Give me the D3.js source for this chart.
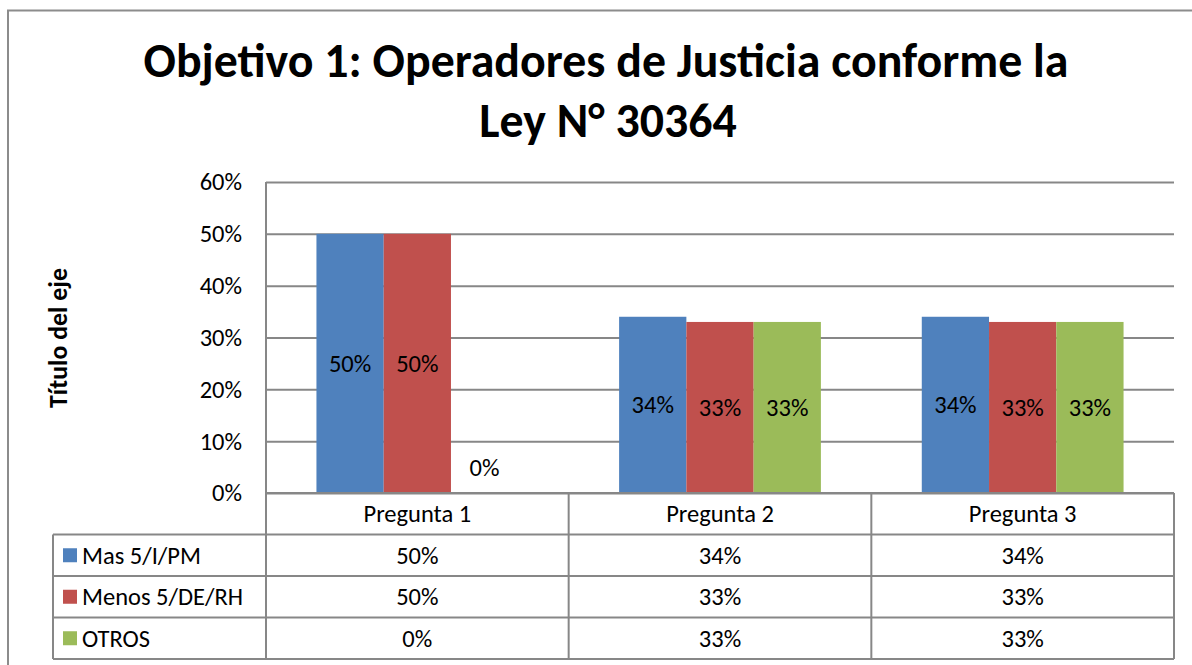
<!DOCTYPE html>
<html>
<head>
<meta charset="utf-8">
<script src="https://cdn.jsdelivr.net/npm/d3@7"></script>
<style>
  html, body { margin: 0; padding: 0; background: #fff; }
  svg { display: block; font-family: Carlito, Calibri, Lato, sans-serif; }
</style>
</head>
<body>
<svg id="chart" width="1192" height="665"></svg>
<script>
// chart data
const titleLines = ['Objetivo 1: Operadores de Justicia conforme la', 'Ley N° 30364'];
const axisTitle = 'Título del eje';
const categories = ['Pregunta 1', 'Pregunta 2', 'Pregunta 3'];
const seriesNames = ['Mas 5/I/PM', 'Menos 5/DE/RH', 'OTROS'];
const masValues = [0.50, 0.34, 0.34];
const menosValues = [0.50, 0.33, 0.33];
const otrosValues = [0.00, 0.33, 0.33];
const yTicks = [0, 0.1, 0.2, 0.3, 0.4, 0.5, 0.6];
const colors = ['#4F81BD', '#C0504D', '#9BBB59'];

const seriesValues = [masValues, menosValues, otrosValues];
const series = seriesNames.map((name, i) => ({ name, color: colors[i], values: seriesValues[i] }));

const margin = { left: 266, right: 1174, top: 182, bottom: 493 };
const rowH = 41.5;
const legendLeft = 53;
const grid = '#878787';
const fs = 24.5;

const svg = d3.select('#chart');
const pct = d3.format('.0%');

// outer chart border (top + left visible)
svg.append('path')
    .attr('d', 'M8,665 L8,10.5 L1192,10.5')
    .attr('fill', 'none')
    .attr('stroke', '#8c8c8c')
    .attr('stroke-width', 2);

// title, fit to the width of the original
const title = svg.append('g');
const t1 = title.append('text')
    .attr('x', 606).attr('y', 77)
    .attr('text-anchor', 'middle')
    .attr('font-weight', 'bold')
    .attr('font-size', 40)
    .text(titleLines[0]);
const w1 = t1.node().getComputedTextLength();
const titleSize = 40 * 925 / w1;
t1.attr('font-size', titleSize);
title.append('text')
    .attr('x', 608).attr('y', 137)
    .attr('text-anchor', 'middle')
    .attr('font-weight', 'bold')
    .attr('font-size', titleSize)
    .text(titleLines[1]);

// scales
const x = d3.scaleBand()
    .domain(categories)
    .range([margin.left, margin.right]);

const xs = d3.scaleBand()
    .domain(seriesNames)
    .range([0, x.bandwidth()])
    .paddingOuter(0.75);

const y = d3.scaleLinear()
    .domain([0, 0.6])
    .range([margin.bottom, margin.top]);

// gridlines + y labels
const yAxis = d3.axisLeft(y)
    .tickValues(yTicks)
    .tickFormat(pct)
    .tickSize(-(margin.right - margin.left))
    .tickPadding(24);

const yg = svg.append('g')
    .attr('transform', `translate(${margin.left},0)`)
    .call(yAxis);
yg.select('.domain').remove();
yg.selectAll('.tick line').attr('stroke', grid).attr('stroke-width', 2);
yg.selectAll('.tick text')
    .attr('font-family', 'Carlito, Calibri, Lato, sans-serif')
    .attr('font-size', fs)
    .attr('fill', '#000');

// axis line
svg.append('line')
    .attr('x1', margin.left).attr('x2', margin.left)
    .attr('y1', margin.top).attr('y2', margin.bottom + rowH * 4)
    .attr('stroke', grid).attr('stroke-width', 2);

// axis title
const at = svg.append('text')
    .attr('transform', 'translate(67,338) rotate(-90)')
    .attr('text-anchor', 'middle')
    .attr('font-weight', 'bold')
    .attr('font-size', 20)
    .text(axisTitle);
at.attr('font-size', 20 * 140 / at.node().getComputedTextLength());

// bars
const groups = svg.append('g').selectAll('g')
    .data(series)
    .join('g')
    .attr('fill', d => d.color);

groups.selectAll('rect')
    .data(d => d.values.map((v, i) => ({ name: d.name, cat: categories[i], v })))
    .join('rect')
    .attr('x', d => x(d.cat) + xs(d.name))
    .attr('width', xs.bandwidth())
    .attr('y', d => y(d.v))
    .attr('height', d => y(0) - y(d.v));

// data labels
svg.append('g').selectAll('text')
    .data(series.flatMap(s => s.values.map((v, i) => ({ name: s.name, cat: categories[i], v }))))
    .join('text')
    .attr('x', d => x(d.cat) + xs(d.name) + xs.bandwidth() / 2)
    .attr('y', d => d.v > 0 ? (y(d.v) + y(0)) / 2 : y(0) - 26)
    .attr('dy', '0.35em')
    .attr('text-anchor', 'middle')
    .attr('font-size', fs)
    .text(d => pct(d.v));

// data table
const table = svg.append('g')
    .attr('stroke', grid)
    .attr('stroke-width', 2);

// baseline / header top
table.append('line')
    .attr('x1', margin.left).attr('x2', margin.right)
    .attr('y1', margin.bottom).attr('y2', margin.bottom);

// row lines
d3.range(1, 5).forEach(r => {
    table.append('line')
        .attr('x1', legendLeft).attr('x2', margin.right)
        .attr('y1', margin.bottom + r * rowH).attr('y2', margin.bottom + r * rowH);
});

// column lines
categories.forEach(c => {
    table.append('line')
        .attr('x1', x(c) + x.bandwidth()).attr('x2', x(c) + x.bandwidth())
        .attr('y1', margin.bottom).attr('y2', margin.bottom + rowH * 4);
});
table.append('line')
    .attr('x1', legendLeft).attr('x2', legendLeft)
    .attr('y1', margin.bottom + rowH).attr('y2', margin.bottom + rowH * 4);

// header text
svg.append('g').selectAll('text')
    .data(categories)
    .join('text')
    .attr('x', d => x(d) + x.bandwidth() / 2)
    .attr('y', margin.bottom + rowH / 2)
    .attr('dy', '0.35em')
    .attr('text-anchor', 'middle')
    .attr('font-size', fs)
    .text(d => d);

// legend rows + values
const rows = svg.append('g').selectAll('g')
    .data(series)
    .join('g')
    .attr('transform', (d, i) => `translate(0,${margin.bottom + rowH * (i + 1.5)})`);

rows.append('rect')
    .attr('x', 63).attr('y', -7)
    .attr('width', 14).attr('height', 14)
    .attr('fill', d => d.color);

rows.append('text')
    .attr('x', 82).attr('dy', '0.35em')
    .attr('font-size', fs)
    .text(d => d.name);

rows.selectAll('text.val')
    .data(d => d.values.map((v, i) => ({ cat: categories[i], v })))
    .join('text')
    .attr('class', 'val')
    .attr('x', d => x(d.cat) + x.bandwidth() / 2)
    .attr('dy', '0.35em')
    .attr('text-anchor', 'middle')
    .attr('font-size', fs)
    .text(d => pct(d.v));
</script>
</body>
</html>
